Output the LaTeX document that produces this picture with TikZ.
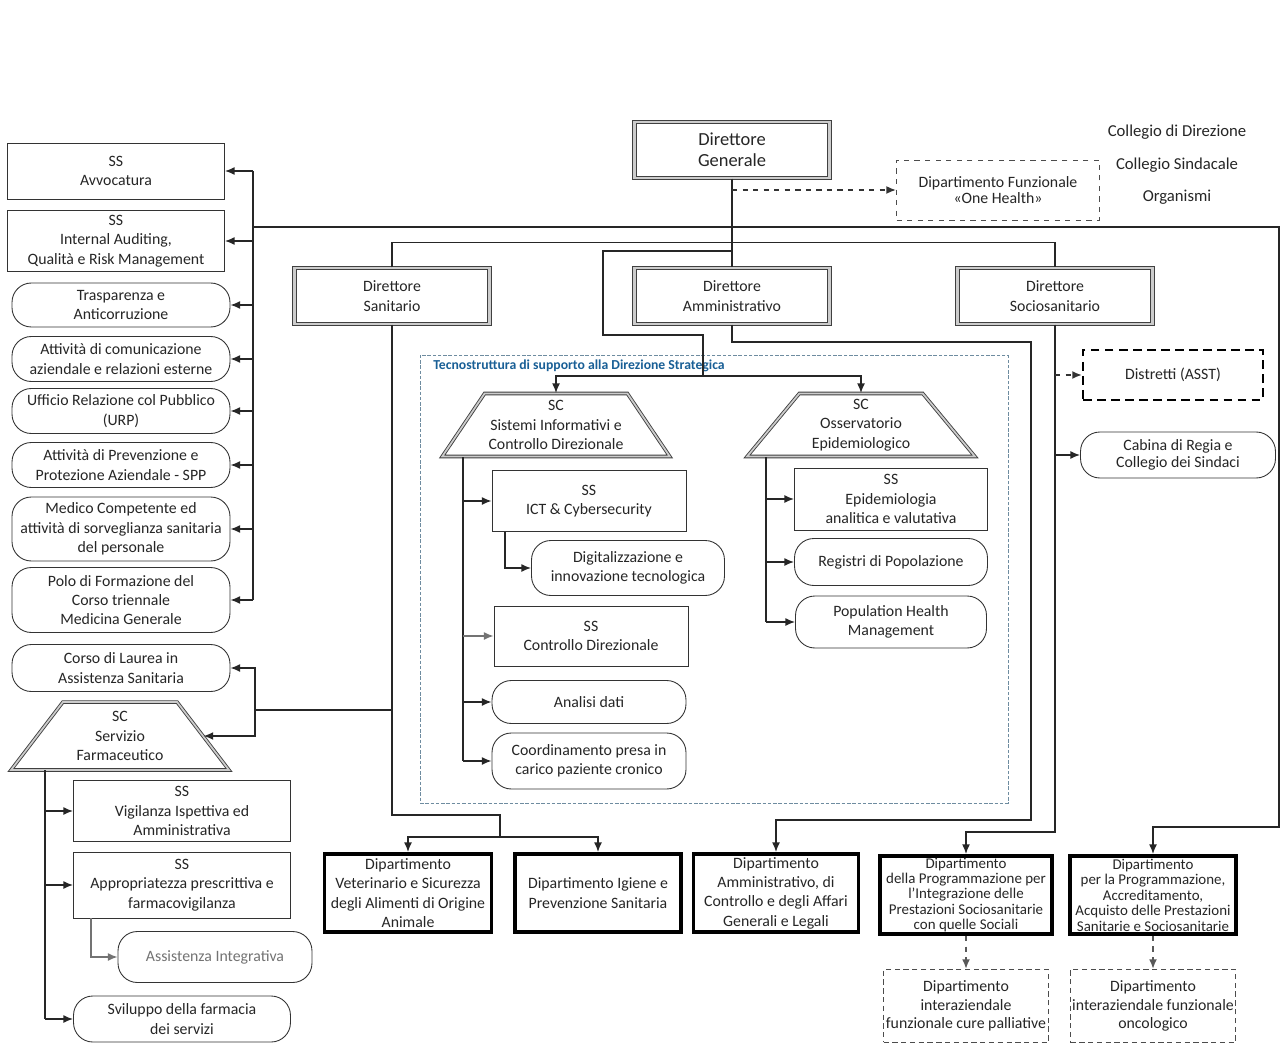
\documentclass[tikz,border=0pt]{standalone}
\usepackage{fontspec}
\setmainfont{Carlito}
\usepackage{tikz}
\usetikzlibrary{arrows.meta}
\usetikzlibrary{shapes}
\usetikzlibrary{positioning}

\definecolor{techblue}{RGB}{25,95,150}
\definecolor{tecnoedge}{RGB}{110,140,160}

\tikzset{
  >={Latex[length=5.5pt,width=4.5pt]},
  txt/.style={font=\fontsize{9}{11}\selectfont, text=black!85, align=center, inner sep=1pt},
  dirbox/.style={txt, draw=black!75, double=black!20, double distance=1.2pt, line width=0.6pt,
                 minimum width=3.9cm, minimum height=1.12cm},
  ssbox/.style={txt, draw=black!80, line width=0.5pt, minimum width=4.34cm},
  unitbox/.style={txt, draw=black!80, line width=0.5pt, rounded corners=11pt, minimum width=4.36cm},
  scbox/.style={txt, trapezium, trapezium angle=52, trapezium stretches=true,
                draw=black!75, double=black!20, double distance=1pt, line width=0.5pt,
                minimum width=4.56cm, minimum height=1.26cm},
  deptbox/.style={txt, draw=black, line width=2.2pt, minimum height=1.56cm},
  interbox/.style={txt, draw=black!70, densely dashed, line width=0.6pt,
                   minimum width=3.3cm, minimum height=1.46cm},
  conn/.style={draw=black!85, line width=0.8pt},
  dasharrow/.style={->, draw=black!80, dashed, line width=1pt},
}

\begin{document}
\begin{tikzpicture}[x=0.02cm,y=-0.02cm,node distance=2cm,on grid]

  \path[use as bounding box, fill=white] (0,0) rectangle (1281,1047);

  % direzione strategica
  \node[dirbox,font=\fontsize{10.5}{12}\selectfont] (dg)  at (732,150)  {Direttore\\Generale};
  \node[dirbox]                  (dsan)          at (392,296)  {Direttore\\Sanitario};
  \node[dirbox]                  (damm)          at (732,296)  {Direttore\\Amministrativo};
  \node[dirbox]                  (dsoc)          at (1055,296) {Direttore\\Sociosanitario};

  \node[txt, font=\fontsize{9}{9.5}\selectfont, draw=black!70, dashed, line width=0.5pt,
        minimum width=4.06cm, minimum height=1.2cm] (onehealth) at (998,190)
        {Dipartimento Funzionale\\«One Health»};

  \node[txt, font=\fontsize{9.5}{11}\selectfont] (colldir)             at (1177,132) {Collegio di Direzione};
  \node[txt, font=\fontsize{9.5}{11}\selectfont] (collsind) [below=0.66cm of colldir]  {Collegio Sindacale};
  \node[txt, font=\fontsize{9.5}{11}\selectfont] (organismi) [below=0.65cm of collsind] {Organismi};

  % staff
  \node[ssbox, minimum height=1.12cm]   (avv)    at (116,171) {SS\\Avvocatura};
  \node[ssbox, minimum height=1.22cm]   (audit)  at (116,241) {SS\\Internal Auditing,\\Qualità e Risk Management};
  \node[unitbox, minimum height=0.88cm] (trasp)  at (121,305) {Trasparenza e\\Anticorruzione};
  \node[unitbox, minimum height=0.9cm]  (comun)  at (121,359) {Attività di comunicazione\\aziendale e relazioni esterne};
  \node[unitbox, minimum height=0.9cm]  (urp)    at (121,411) {Ufficio Relazione col Pubblico\\(URP)};
  \node[unitbox, minimum height=0.9cm]  (spp)    at (121,465) {Attività di Prevenzione e\\Protezione Aziendale - SPP};
  \node[unitbox, minimum height=1.28cm] (medico) at (121,529) {Medico Competente ed\\attività di sorveglianza sanitaria\\del personale};
  \node[unitbox, minimum height=1.3cm]  (polo)   at (121,600) {Polo di Formazione del\\Corso triennale\\Medicina Generale};
  \node[unitbox, minimum height=0.94cm] (laurea) at (121,668) {Corso di Laurea in\\Assistenza Sanitaria};

  % servizio farmaceutico
  \node[scbox, minimum width=4.4cm, minimum height=1.36cm]
                                        (farma)    at (120,736)  {SC\\Servizio\\Farmaceutico};
  \node[ssbox, minimum height=1.22cm]   (vigil)    at (182,811)  {SS\\Vigilanza Ispettiva ed\\Amministrativa};
  \node[ssbox, minimum height=1.32cm]   (approp)   at (182,885)  {SS\\Appropriatezza prescrittiva e\\farmacovigilanza};
  \node[unitbox, minimum width=3.88cm, minimum height=1.02cm, text=black!55]
                                        (assint)   at (215,957)  {Assistenza Integrativa};
  \node[unitbox, minimum width=4.34cm, minimum height=0.92cm]
                                        (farmserv) at (182,1019) {Sviluppo della farmacia\\dei servizi};

  % tecnostruttura
  \node[draw=tecnoedge, dash pattern=on 2pt off 1pt, line width=0.5pt,
        minimum width=11.76cm, minimum height=8.96cm] (tecno) at (714,579) {};
  \node[font=\fontsize{7.8}{9}\selectfont\bfseries, text=techblue, anchor=west, inner sep=0pt]
        (tecnotitle) at (433,366) {Tecnostruttura di supporto alla Direzione Strategica};

  \node[scbox]                                             (sist)      at (556,425) {SC\\Sistemi Informativi e\\Controllo Direzionale};
  \node[ssbox, minimum width=3.88cm, minimum height=1.22cm]   (ict)       at (589,501) {SS\\ICT \& Cybersecurity};
  \node[unitbox, minimum width=3.86cm, minimum height=1.1cm]  (digit)     at (628,568) {Digitalizzazione e\\innovazione tecnologica};
  \node[ssbox, minimum width=3.88cm, minimum height=1.2cm]    (ctrl)      at (591,636) {SS\\Controllo Direzionale};
  \node[unitbox, minimum width=3.88cm, minimum height=0.86cm] (analisi)   at (589,702) {Analisi dati};
  \node[unitbox, minimum width=3.88cm, minimum height=1.12cm] (coord)     at (589,761) {Coordinamento presa in\\carico paziente cronico};

  \node[scbox]                                             (oss)       at (861,425) {SC\\Osservatorio\\Epidemiologico};
  \node[ssbox, minimum width=3.86cm, minimum height=1.24cm]   (epid)      at (891,499) {SS\\Epidemiologia\\analitica e valutativa};
  \node[unitbox, minimum width=3.86cm, minimum height=0.94cm] (registri)  at (891,562) {Registri di Popolazione};
  \node[unitbox, minimum width=3.82cm, minimum height=1.04cm] (pophealth) at (891,622) {Population Health\\Management};

  % sociosanitario
  \node[txt, draw=black, dashed, line width=1.2pt, dash pattern=on 5pt off 3pt,
        minimum width=3.6cm, minimum height=1cm] (distr) at (1173,375) {Distretti (ASST)};
  \node[unitbox, font=\fontsize{9}{9.5}\selectfont, minimum width=3.9cm, minimum height=0.92cm]
        (cabina) at (1178,455) {Cabina di Regia e\\Collegio dei Sindaci};

  % dipartimenti
  \node[deptbox, minimum width=3.34cm] (dvet)     at (408,893) {Dipartimento\\Veterinario e Sicurezza\\degli Alimenti di Origine\\Animale};
  \node[deptbox, minimum width=3.32cm] (digiene)  at (598,893) {Dipartimento Igiene e\\Prevenzione Sanitaria};
  \node[deptbox, minimum width=3.3cm]  (damminis) at (776,893) {Dipartimento\\Amministrativo, di\\Controllo e degli Affari\\Generali e Legali};
  \node[deptbox, minimum width=3.44cm, font=\fontsize{8.5}{8.8}\selectfont]
        (dprog) at (966,895) {Dipartimento\\della Programmazione per\\l’Integrazione delle\\Prestazioni Sociosanitarie\\con quelle Sociali};
  \node[deptbox, minimum width=3.32cm, font=\fontsize{8.5}{8.8}\selectfont]
        (dacq)  at (1153,895) {Dipartimento\\per la Programmazione,\\Accreditamento,\\Acquisto delle Prestazioni\\Sanitarie e Sociosanitarie};
  \node[interbox, font=\fontsize{9}{10.5}\selectfont] (dpall) [below=2.22cm of dprog] {Dipartimento\\interaziendale\\funzionale cure palliative};
  \node[interbox, font=\fontsize{9}{10.5}\selectfont] (donco) [below=2.22cm of dacq]  {Dipartimento\\interaziendale funzionale\\oncologico};

  % connectors
  \coordinate (staff)     at (253,227);
  \coordinate (rcorner)   at (1279,227);
  \coordinate (acqbend)   at (1279,827);
  \coordinate (tecfeed)   at (703,376);
  \coordinate (ammcorner) at (1031,342);
  \coordinate (ammbend)   at (1031,820);
  \coordinate (socbend)   at (1055,832);
  \coordinate (sanbend)   at (500,815);
  \coordinate (sanfork)   at (500,837);
  \coordinate (farmfork)  at (255,710);
  \coordinate (sistspine) at (463,457);
  \coordinate (ictfoot)   at (505,532);
  \coordinate (ossspine)  at (766,457);
  \coordinate (farmspine) at (45,770);
  \coordinate (appfoot)   at (91,918);

  \draw[conn] (dg.south) -- (damm.north);
  \draw[dasharrow] (dg.south |- onehealth.west) -- (onehealth.west);
  \draw[conn] (dsan.north) -- ++(0,-25) -| (dsoc.north);

  \draw[conn] (staff |- avv.east) -- (staff |- polo.east);
  \foreach \n in {avv,audit,trasp,comun,urp,spp,medico,polo}
    \draw[conn,->] (staff |- \n.east) -- (\n.east);
  \draw[conn,->] (staff) -- (rcorner) -- (acqbend) -| (dacq.north);

  \draw[conn] (dg.south |- 0,251) -| (603,335) -| (tecfeed);
  \draw[conn,->] (tecfeed) -| (sist.north);
  \draw[conn,->] (tecfeed) -| (oss.north);

  \draw[conn,->] (damm.south) |- (ammcorner) -- (ammbend) -| (damminis.north);

  \draw[conn,->] (dsoc.south) -- (socbend) -| (dprog.north);
  \draw[dasharrow] (dsoc.south |- distr.west) -- (distr.west);
  \draw[conn,->] (dsoc.south |- cabina.west) -- (cabina.west);

  \draw[conn] (dsan.south) |- (sanbend) -- (sanfork);
  \draw[conn,->] (sanfork) -| (dvet.north);
  \draw[conn,->] (sanfork) -| (digiene.north);
  \draw[conn] (dsan.south |- farmfork) -- (farmfork);
  \draw[conn,->] (farmfork) |- (laurea.east);
  \draw[conn,->] (farmfork) |- (farma.east);

  \draw[conn] (sistspine) -- (sistspine |- coord.west);
  \foreach \n in {ict,analisi,coord}
    \draw[conn,->] (sistspine |- \n.west) -- (\n.west);
  \draw[conn,->,draw=black!55] (sistspine |- ctrl.west) -- (ctrl.west);
  \draw[conn,->] (ictfoot) |- (digit.west);

  \draw[conn] (ossspine) -- (ossspine |- pophealth.west);
  \foreach \n in {epid,registri,pophealth}
    \draw[conn,->] (ossspine |- \n.west) -- (\n.west);

  \draw[conn] (farmspine) -- (farmspine |- farmserv.west);
  \foreach \n in {vigil,approp,farmserv}
    \draw[conn,->] (farmspine |- \n.west) -- (\n.west);
  \draw[conn,->,draw=black!55] (appfoot) |- (assint.west);

  \draw[dasharrow,draw=black!65] (dprog.south) -- (dpall.north);
  \draw[dasharrow,draw=black!65] (dacq.south) -- (donco.north);

\end{tikzpicture}
\end{document}
